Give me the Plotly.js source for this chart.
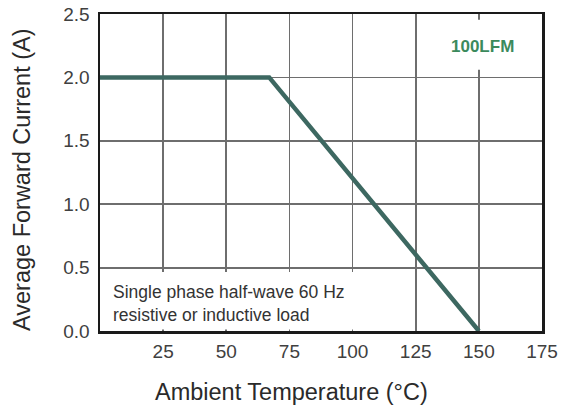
<!DOCTYPE html>
<html><head><meta charset="utf-8">
<script src="https://cdn.plot.ly/plotly-3.0.1.min.js"></script>
<style>html,body{margin:0;padding:0;background:#fff}#c{width:562px;height:405px}</style>
</head><body><div id="c"></div>
<script>
const temperature = [0, 67, 150];
const current = [2.0, 2.0, 0.0];
const xTicks = [25, 50, 75, 100, 125, 150, 175];
const yTicks = [0, 0.5, 1.0, 1.5, 2.0, 2.5];
const yTickText = ['0.0', '0.5', '1.0', '1.5', '2.0', '2.5'];
const xTitle = 'Ambient Temperature (°C)';
const yTitle = 'Average Forward Current (A)';
const noteText = 'Single phase half-wave 60 Hz<br>resistive or inductive load';
const labelText = '100LFM';

const font = 'Liberation Sans, Arial, sans-serif';
const W = 562, H = 405, M = {l: 100, r: 20, t: 14, b: 74};
const pw = W - M.l - M.r, ph = H - M.t - M.b;
const data = [{
  x: temperature, y: current, type: 'scatter', mode: 'lines',
  line: {color: '#3d6861', width: 4.5}, hoverinfo: 'skip', cliponaxis: false
}];
const layout = {
  width: W, height: H,
  margin: M,
  paper_bgcolor: '#fff', plot_bgcolor: '#fff',
  showlegend: false,
  font: {family: font, color: '#333'},
  xaxis: {
    range: [0, 175], tickvals: xTicks, ticktext: xTicks.map(String),
    showgrid: true, gridcolor: '#6e6e6e', gridwidth: 1.8,
    zeroline: false, showline: true, mirror: true, linecolor: '#1a1a1a', linewidth: 2.5,
    ticks: '', tickfont: {size: 19, color: '#404040'}, ticklabelstandoff: 2
  },
  yaxis: {
    range: [0, 2.5], tickvals: yTicks, ticktext: yTickText,
    showgrid: true, gridcolor: '#6e6e6e', gridwidth: 1.8,
    zeroline: false, showline: true, mirror: true, linecolor: '#1a1a1a', linewidth: 2.5,
    ticks: '', tickfont: {size: 19, color: '#404040'}, ticklabelstandoff: 4
  },
  shapes: [
    {type: 'rect', xref: 'x', yref: 'y', x0: 0.6, x1: 103, y0: 0.012, y1: 0.465,
     fillcolor: '#fff', line: {width: 0}, layer: 'above'},
    {type: 'rect', xref: 'x', yref: 'y', x0: 135, x1: 168, y0: 2.06, y1: 2.455,
     fillcolor: '#fff', line: {width: 0}, layer: 'above'}
  ],
  annotations: [
    {xref: 'x', yref: 'y', x: 4.5, y: 0.215, xanchor: 'left', yanchor: 'middle',
     text: noteText, align: 'left', showarrow: false,
     font: {size: 17.5, color: '#333', family: font}},
    {xref: 'x', yref: 'y', x: 151.3, y: 2.245, xanchor: 'center', yanchor: 'middle',
     text: '<b>' + labelText + '</b>', showarrow: false,
     font: {size: 17, color: '#3b8a5c', family: font}},
    {xref: 'paper', yref: 'paper', x: (291 - M.l) / pw, y: (H - M.b - 392) / ph,
     xanchor: 'center', yanchor: 'middle', text: xTitle, showarrow: false,
     font: {size: 23.5, color: '#2a2a2a', family: font}},
    {xref: 'paper', yref: 'paper', x: (22 - M.l) / pw, y: (H - M.b - 180) / ph,
     xanchor: 'center', yanchor: 'middle', textangle: -90, text: yTitle, showarrow: false,
     font: {size: 23.5, color: '#2a2a2a', family: font}}
  ]
};
Plotly.newPlot('c', data, layout, {displayModeBar: false, staticPlot: true});
</script></body></html>
